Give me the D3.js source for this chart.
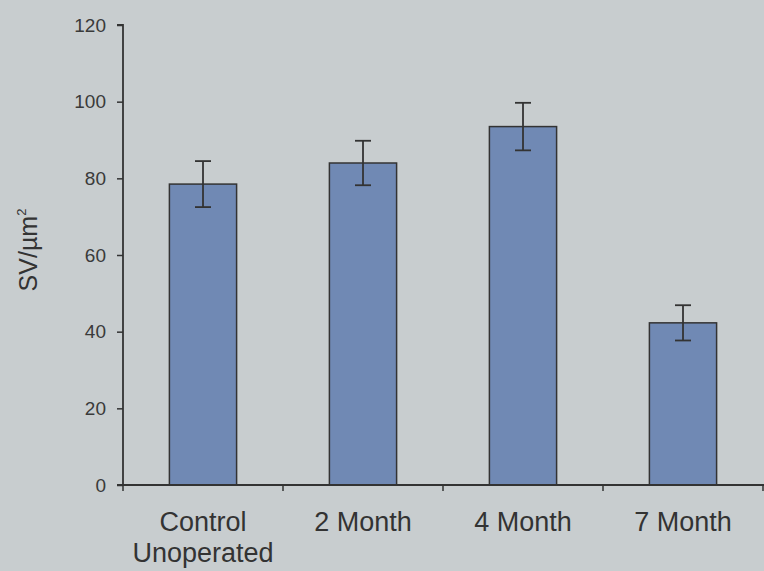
<!DOCTYPE html>
<html>
<head>
<meta charset="utf-8">
<script src="https://cdn.jsdelivr.net/npm/d3@7/dist/d3.min.js"></script>
<style>
  html, body { margin: 0; padding: 0; background: #c8cdcf; }
  svg { display: block; }
  text { font-family: "Liberation Sans", Arial, sans-serif; fill: #333; }
</style>
</head>
<body>
<svg id="chart" width="764" height="571"></svg>
<script>
// Surface density (SV/µm²) by group, mean with error
const categories = [["Control", "Unoperated"], ["2 Month"], ["4 Month"], ["7 Month"]];
const means = [78.5, 84, 93.5, 42.3];
const errors = [6, 5.8, 6.2, 4.6];
const yTicks = [0, 20, 40, 60, 80, 100, 120];

const svg = d3.select("#chart");
const W = 764, H = 571;
const margin = { left: 123, right: 1, top: 25, bottom: 86 };

const keys = categories.map(c => c.join(" "));
const x = d3.scaleBand().domain(keys).range([margin.left, W - margin.right])
  .paddingInner(0.58).paddingOuter(0.29);
const y = d3.scaleLinear().domain([0, 120]).range([H - margin.bottom, margin.top]);

const ink = "#333";

// Bars
svg.append("g").selectAll("rect").data(means).join("rect")
  .attr("x", (d, i) => x(keys[i]))
  .attr("y", d => y(d))
  .attr("width", x.bandwidth())
  .attr("height", d => y(0) - y(d))
  .attr("fill", "#7089b4")
  .attr("stroke", ink)
  .attr("stroke-width", 1.5);

// Error bars
const eb = svg.append("g").attr("stroke", ink).attr("stroke-width", 1.8);
means.forEach((m, i) => {
  const cx = x(keys[i]) + x.bandwidth() / 2;
  eb.append("line").attr("x1", cx).attr("x2", cx).attr("y1", y(m + errors[i])).attr("y2", y(m - errors[i]));
  [m + errors[i], m - errors[i]].forEach(v => {
    eb.append("line").attr("x1", cx - 8).attr("x2", cx + 8).attr("y1", y(v)).attr("y2", y(v));
  });
});

// Y axis
const yAxis = svg.append("g").attr("transform", `translate(${margin.left},0)`)
  .call(d3.axisLeft(y).tickValues(yTicks).tickSize(6).tickPadding(11));
yAxis.select(".domain").attr("stroke", ink).attr("stroke-width", 1.8).attr("d", `M-6,${y(120)}H0V${y(0)}`);
yAxis.selectAll(".tick line").attr("stroke", ink).attr("stroke-width", 1.5);
yAxis.selectAll(".tick text").attr("font-size", 19).style("fill", "#3a3a3a")
  .attr("font-family", "Liberation Sans, Arial, sans-serif");

// X axis with boundary ticks between categories
const xAxisG = svg.append("g").attr("transform", `translate(0,${y(0)})`);
xAxisG.append("line").attr("x1", margin.left - 6).attr("x2", W).attr("y1", 0).attr("y2", 0)
  .attr("stroke", ink).attr("stroke-width", 1.8);
const step = x.step();
const bounds = d3.range(keys.length + 1).map(i => x(keys[0]) - x.paddingOuter() * step + i * step);
xAxisG.selectAll("line.bt").data(bounds).join("line").attr("class", "bt")
  .attr("x1", d => d).attr("x2", d => d).attr("y1", 0).attr("y2", 6)
  .attr("stroke", ink).attr("stroke-width", 1.5);

// Category labels
categories.forEach((lines, i) => {
  const cx = x(keys[i]) + x.bandwidth() / 2;
  const t = svg.append("text").attr("text-anchor", "middle").attr("font-size", 27)
    .attr("x", cx).attr("y", 531);
  lines.forEach((ln, j) => t.append("tspan").attr("x", cx).attr("dy", j === 0 ? 0 : 31).text(ln));
});

// Y axis title
const yt = svg.append("text").attr("transform", "translate(37,250) rotate(-90)")
  .attr("text-anchor", "middle").attr("font-size", 25);
yt.append("tspan").text("SV/µm");
yt.append("tspan").attr("font-size", 13).attr("dy", -11).text("2");
</script>
</body>
</html>
